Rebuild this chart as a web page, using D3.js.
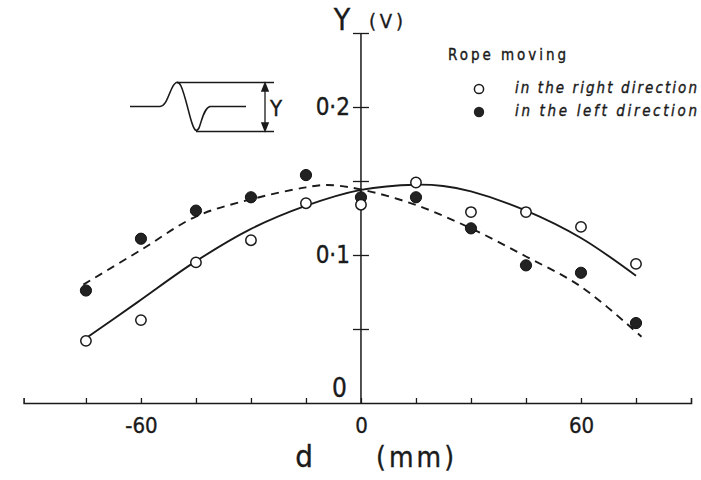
<!DOCTYPE html>
<html>
<head>
<meta charset="utf-8">
<script src="https://cdn.jsdelivr.net/npm/d3@7"></script>
<style>
  html, body { margin: 0; padding: 0; background: #fff; }
  svg { display: block; }
  text { font-family: "DejaVu Sans Condensed", "Liberation Sans Narrow", "DejaVu Sans", sans-serif; fill: #1a1a1a; stroke: #1a1a1a; stroke-width: 0.35px; }
</style>
</head>
<body>
<svg id="chart" width="701" height="480"></svg>
<script>
// ---- data ----
const dValues = [-75, -60, -45, -30, -15, 0, 15, 30, 45, 60, 75];          // d (mm)
const rightDir = [0.042, 0.056, 0.095, 0.110, 0.135, 0.134, 0.149, 0.129, 0.129, 0.119, 0.094]; // open circles
const leftDir  = [0.076, 0.111, 0.130, 0.139, 0.154, 0.139, 0.139, 0.118, 0.093, 0.088, 0.054]; // filled circles

// fitted curves
const solidCurveD = [-76, -61, -45.5, -30.5, -15.3, 0, 15, 22.4, 30, 45, 60, 75];
const solidCurveY = [0.042, 0.068, 0.095, 0.117, 0.133, 0.144, 0.1475, 0.1466, 0.143, 0.130, 0.1115, 0.086];
const dashCurveD  = [-75.7, -60, -45, -30, -15, -9.2, 0, 15, 30, 45, 60, 76.5];
const dashCurveY  = [0.080, 0.1034, 0.126, 0.1376, 0.1457, 0.1473, 0.1443, 0.1338, 0.118, 0.099, 0.0786, 0.0448];

const xTickValues = [-75, -60, -45, -30, -15, 0, 15, 30, 45, 60, 75];
const xTickLabels = {"-60": "-60", "0": "0", "60": "60"};
const yTickValues = [0.05, 0.1, 0.15, 0.2, 0.25];
const yTickLabels = {"0.1": "0·1", "0.2": "0·2"};

const legendTitle = "Rope moving";
const legendItems = ["in the right direction", "in the left direction"];

// ---- drawing ----
const svg = d3.select("#chart");
const ink = "#1a1a1a";

const x = d3.scaleLinear().domain([-92, 90]).range([23.6, 691]);
const y = d3.scaleLinear().domain([0, 0.25]).range([403, 33]);

// x axis (ticks point upward)
const xAxis = svg.append("g")
  .attr("transform", `translate(0,${y(0)})`)
  .call(d3.axisBottom(x).tickValues(xTickValues).tickSizeInner(-5).tickSizeOuter(-5).tickPadding(14)
        .tickFormat(d => xTickLabels[String(d)] || ""));
xAxis.selectAll("path.domain").attr("stroke", ink).attr("stroke-width", 1.6);
xAxis.selectAll(".tick line").attr("stroke", ink).attr("stroke-width", 1.3);
xAxis.selectAll(".tick text").attr("font-size", 22).attr("fill", ink)
  .style("font-family", "'DejaVu Sans Condensed', 'Liberation Sans Narrow', sans-serif");

// y axis at d = 0 with ticks crossing both sides
const y0x = x(0);
const yAxisL = svg.append("g")
  .attr("transform", `translate(${y0x},0)`)
  .call(d3.axisLeft(y).tickValues(yTickValues).tickSizeInner(8).tickSizeOuter(0).tickPadding(3)
        .tickFormat(d => yTickLabels[String(d)] || ""));
yAxisL.select("path.domain").remove();
yAxisL.selectAll(".tick line").attr("stroke", ink).attr("stroke-width", 1.3);
yAxisL.selectAll(".tick text").attr("font-size", 24).attr("fill", ink)
  .style("font-family", "'DejaVu Sans Condensed', 'Liberation Sans Narrow', sans-serif");
const yAxisR = svg.append("g")
  .attr("transform", `translate(${y0x},0)`)
  .call(d3.axisRight(y).tickValues(yTickValues).tickSizeInner(8).tickSizeOuter(0).tickFormat(""));
yAxisR.select("path.domain").remove();
yAxisR.selectAll(".tick line").attr("stroke", ink).attr("stroke-width", 1.3);

svg.append("line")
  .attr("x1", y0x).attr("x2", y0x)
  .attr("y1", y(0.25)).attr("y2", y(0))
  .attr("stroke", ink).attr("stroke-width", 1.5);

// "0" label of the y axis
svg.append("text").attr("x", y0x - 14).attr("y", y(0) - 6)
  .attr("text-anchor", "end").attr("font-size", 26).text("0");

// axis titles
svg.append("text").attr("x", 342).attr("y", 30).attr("text-anchor", "middle")
  .attr("font-size", 30).text("Y");
svg.append("text").attr("x", 369).attr("y", 28).attr("font-size", 20)
  .attr("textLength", 34).attr("lengthAdjust", "spacing").text("(V)");
svg.append("text").attr("x", 304).attr("y", 467).attr("text-anchor", "middle")
  .attr("font-size", 31).text("d");
svg.append("text").attr("x", 376).attr("y", 467)
  .attr("font-size", 28).attr("textLength", 78).attr("lengthAdjust", "spacing").text("(mm)");

// fitted curves
const line = d3.line().x(d => x(d[0])).y(d => y(d[1])).curve(d3.curveCatmullRom.alpha(0.5));
svg.append("path")
  .datum(solidCurveD.map((d, i) => [d, solidCurveY[i]]))
  .attr("d", line).attr("fill", "none").attr("stroke", ink).attr("stroke-width", 1.9);
svg.append("path")
  .datum(dashCurveD.map((d, i) => [d, dashCurveY[i]]))
  .attr("d", line).attr("fill", "none").attr("stroke", ink).attr("stroke-width", 1.9)
  .attr("stroke-dasharray", "8,6");

// points
svg.append("g").selectAll("circle")
  .data(dValues.map((d, i) => [d, leftDir[i]]))
  .join("circle")
  .attr("cx", d => x(d[0])).attr("cy", d => y(d[1])).attr("r", 5.6)
  .attr("fill", "#222").attr("stroke", "#111").attr("stroke-width", 1);
svg.append("g").selectAll("circle")
  .data(dValues.map((d, i) => [d, rightDir[i]]))
  .join("circle")
  .attr("cx", d => x(d[0])).attr("cy", d => y(d[1])).attr("r", 5.2)
  .attr("fill", "#fff").attr("stroke", ink).attr("stroke-width", 1.5);

// legend
svg.append("text").attr("x", 448).attr("y", 60).attr("font-size", 15)
  .attr("textLength", 118).attr("lengthAdjust", "spacing").text(legendTitle);
svg.append("circle").attr("cx", 479).attr("cy", 89).attr("r", 4.6)
  .attr("fill", "#fff").attr("stroke", ink).attr("stroke-width", 1.5);
svg.append("circle").attr("cx", 479).attr("cy", 112).attr("r", 5.2)
  .attr("fill", "#222");
legendItems.forEach((t, i) => {
  svg.append("text").attr("x", 515).attr("y", 93 + i * 23).attr("font-size", 15)
    .attr("font-style", "italic")
    .attr("textLength", 182).attr("lengthAdjust", "spacing").text(t);
});

// inset pulse sketch
const inset = svg.append("g").attr("fill", "none").attr("stroke", ink).attr("stroke-width", 1.6);
inset.append("path").attr("d",
  "M130,106.5 L160,106.5 C166,106 168,96 172,88 C175,82 178,80 181,86 " +
  "C185,95 188,110 191,120 C194,130 196,133 199,128 C202,120 204,108 210,106.5 L246,106.5");
inset.append("line").attr("x1", 177).attr("x2", 274).attr("y1", 82.5).attr("y2", 82.5);
inset.append("line").attr("x1", 196).attr("x2", 274).attr("y1", 131.5).attr("y2", 131.5);
inset.append("line").attr("x1", 265).attr("x2", 265).attr("y1", 84).attr("y2", 130).attr("stroke-width", 1.3);
inset.append("path").attr("d", "M262,91 L265,83.5 L268,91 Z").attr("fill", ink);
inset.append("path").attr("d", "M262,123 L265,130.5 L268,123 Z").attr("fill", ink);
svg.append("text").attr("x", 270).attr("y", 116).attr("font-size", 22).text("Y");
</script>
</body>
</html>
